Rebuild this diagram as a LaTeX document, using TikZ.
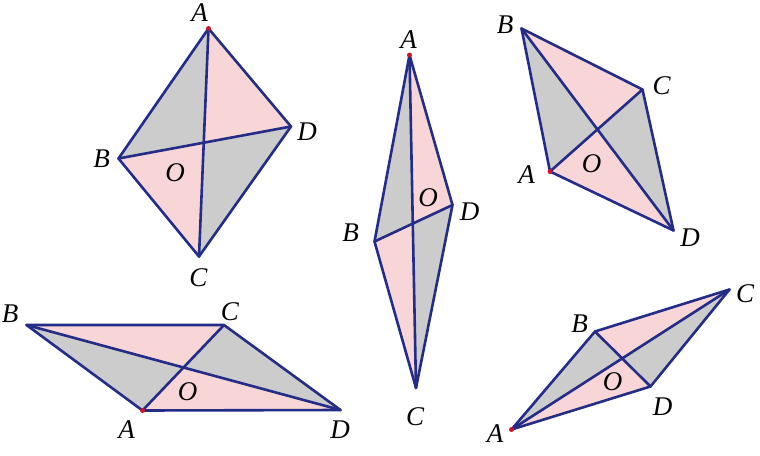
\documentclass[tikz,border=0pt]{standalone}
\usepackage{fontspec}
\setmainfont{Liberation Serif}
\definecolor{edge}{RGB}{35,45,135}
\definecolor{pinkfill}{RGB}{248,214,216}
\definecolor{grayfill}{RGB}{204,204,204}
\definecolor{dotred}{RGB}{205,20,45}
\tikzset{
	side/.style={draw=edge,line width=2.6pt,line join=round,line cap=round},
	lbl/.style={font=\fontsize{27}{29}\selectfont\itshape,inner sep=0pt}
}
\begin{document}
\begin{tikzpicture}[x=1pt,y=-1pt]
	\useasboundingbox (0,0) rectangle (760,455);

	\coordinate (A1) at (208.5,28.5);
	\coordinate (B1) at (118.5,158.5);
	\coordinate (C1) at (199,256.5);
	\coordinate (D1) at (291,126.5);
	\coordinate (O1) at (intersection of A1--C1 and B1--D1);

	\coordinate (A2) at (409.5,55);
	\coordinate (B2) at (374.5,241.5);
	\coordinate (C2) at (416,388);
	\coordinate (D2) at (452.5,205);
	\coordinate (O2) at (intersection of A2--C2 and B2--D2);

	\coordinate (A3) at (550,171.5);
	\coordinate (B3) at (521.5,28.5);
	\coordinate (C3) at (642.5,89.5);
	\coordinate (D3) at (673.5,230.5);
	\coordinate (O3) at (intersection of A3--C3 and B3--D3);

	\coordinate (A4) at (142.5,410.5);
	\coordinate (B4) at (26.5,325);
	\coordinate (C4) at (224,325);
	\coordinate (D4) at (340.5,410);
	\coordinate (O4) at (intersection of A4--C4 and B4--D4);

	\coordinate (A5) at (511.5,429.5);
	\coordinate (B5) at (595,331.5);
	\coordinate (C5) at (729.5,289.5);
	\coordinate (D5) at (650.5,386.5);
	\coordinate (O5) at (intersection of A5--C5 and B5--D5);

	\foreach \i in {1,...,5}{
		\fill[grayfill] (A\i) -- (B\i) -- (O\i) -- cycle;
		\fill[pinkfill] (B\i) -- (C\i) -- (O\i) -- cycle;
		\fill[grayfill] (C\i) -- (D\i) -- (O\i) -- cycle;
		\fill[pinkfill] (D\i) -- (A\i) -- (O\i) -- cycle;
		\draw[side] (A\i) -- (B\i) -- (C\i) -- (D\i) -- cycle;
		\draw[side] (A\i) -- (C\i);
		\draw[side] (B\i) -- (D\i);
		\fill[dotred] (A\i) circle (2.5pt);
	}

	\node[lbl] (lA1) at (199.5,13) {A};
	\node[lbl] (lB1) at (101.5,159) {B};
	\node[lbl] (lC1) at (198.5,278) {C};
	\node[lbl] (lD1) at (307,131.5) {D};
	\node[lbl] (lO1) at (175,173) {O};

	\node[lbl] (lA2) at (408.5,40) {A};
	\node[lbl] (lB2) at (350.5,233) {B};
	\node[lbl] (lC2) at (415,416.5) {C};
	\node[lbl] (lD2) at (469.5,211.5) {D};
	\node[lbl] (lO2) at (428,198) {O};

	\node[lbl] (lA3) at (526.5,175) {A};
	\node[lbl] (lB3) at (505,25) {B};
	\node[lbl] (lC3) at (661.5,86) {C};
	\node[lbl] (lD3) at (690,237.5) {D};
	\node[lbl] (lO3) at (591.5,163.5) {O};

	\node[lbl] (lA4) at (126.5,430) {A};
	\node[lbl] (lB4) at (10,313.5) {B};
	\node[lbl] (lC4) at (230,311.5) {C};
	\node[lbl] (lD4) at (340,430) {D};
	\node[lbl] (lO4) at (187.5,391.5) {O};

	\node[lbl] (lA5) at (495,433.5) {A};
	\node[lbl] (lB5) at (579.5,323.5) {B};
	\node[lbl] (lC5) at (745,293.5) {C};
	\node[lbl] (lD5) at (662.5,406.5) {D};
	\node[lbl] (lO5) at (612.5,381.5) {O};
\end{tikzpicture}
\end{document}
